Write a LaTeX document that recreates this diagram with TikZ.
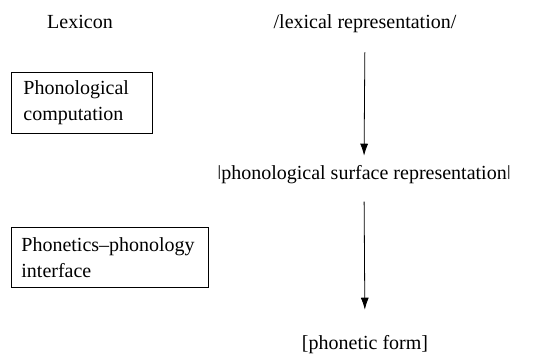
\documentclass[tikz,border=0pt]{standalone}
\usepackage{fontspec}
\setmainfont{Liberation Serif}
\usetikzlibrary{arrows.meta,positioning}

\begin{document}
\begin{tikzpicture}[x=1pt, y=1pt, font=\fontsize{20}{26}\selectfont,
    level/.style={inner sep=0, anchor=base},
    module/.style={draw, line width=0.8pt, anchor=north west, align=left,
      inner ysep=0, inner xsep=12pt},
    derive/.style={-{Latex[length=12pt,width=8pt]}, line width=0.8pt}]
  \useasboundingbox (0,0) rectangle (540,-354);
  % levels of representation
  \node[level] (lexicon) at (80,-28) {Lexicon};
  \node[level] (lexrep) at (365,-28) {/lexical representation/};
  \node[level] (surface) at (364,-179) {ǀphonological surface representationǀ};
  \node[level] (phonetic) at (365,-349) {[phonetic form]};
  % modules
  \node[module, text width=117pt, minimum height=61pt] (computation) at (11,-72)
    {Phonological\\computation};
  \node[module, text width=177pt, minimum height=60pt, inner xsep=10pt] (interface) at (11,-227)
    {Phonetics--phonology\\interface};
  % derivation
  \draw[derive, shorten <=20pt, shorten >=9pt] (lexrep.south) -- (surface.north);
  \draw[derive, shorten <=18pt, shorten >=25pt] (surface.south) -- (phonetic.north);
\end{tikzpicture}
\end{document}
